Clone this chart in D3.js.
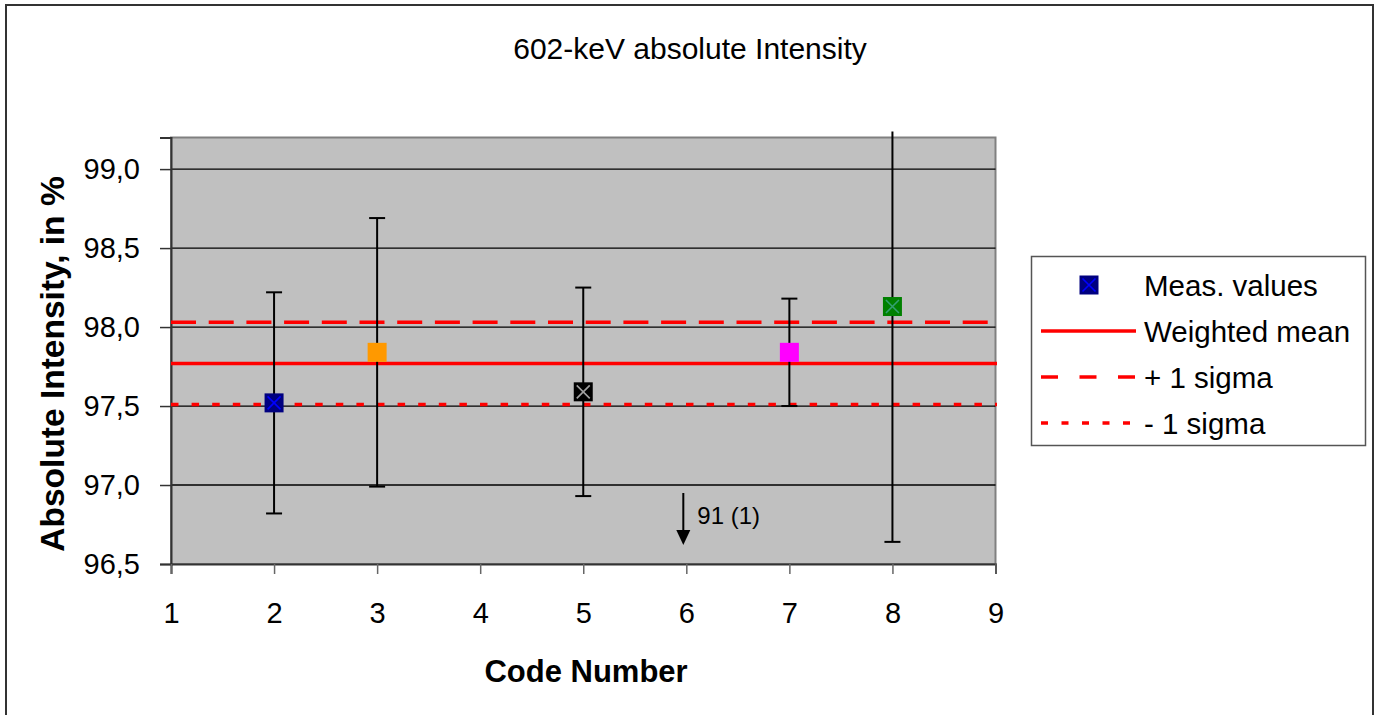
<!DOCTYPE html>
<html>
<head>
<meta charset="utf-8">
<script src="https://cdn.jsdelivr.net/npm/d3@7"></script>
<style>
  html, body { margin: 0; padding: 0; background: #fff; }
  svg { display: block; font-family: "Liberation Sans", Arial, sans-serif; }
</style>
</head>
<body>
<svg id="chart" width="1379" height="715"></svg>
<script>
// ---- data ----
const codes = [2, 3, 5, 7, 8];
const values = [97.52, 97.84, 97.59, 97.84, 98.13];
const uncertainties = [0.70, 0.85, 0.66, 0.34, 1.49];
const weightedMean = 97.77;
const sigma = 0.26;
const xTicks = [1, 2, 3, 4, 5, 6, 7, 8, 9];
const yTicks = [96.5, 97.0, 97.5, 98.0, 98.5, 99.0];
const annotations = [{ code: 6, label: "91 (1)" }];
const legendLabels = ["Meas. values", "Weighted mean", "+ 1 sigma", "- 1 sigma"];
const title = "602-keV absolute Intensity";
const xTitle = "Code Number";
const yTitle = "Absolute Intensity, in %";

// marker styles (fill, cross colour or null)
const markerFill = ["#000080", "#FF9900", "#000000", "#FF00FF", "#008000"];
const markerCross = ["#0000FF", null, "#A0A0A0", null, "#33A070"];

// ---- layout ----
const svg = d3.select("#chart");
const plot = { left: 171, right: 995.5, top: 137.5, bottom: 564 };

const x = d3.scaleLinear().domain([1, 9]).range([plot.left, plot.right]);
const y = d3.scaleLinear().domain([96.5, 99.2]).range([plot.bottom, plot.top]);
const fmt = d => d3.format(".1f")(d).replace(".", ",");

// outer border
svg.append("rect").attr("x", 6).attr("y", 5).attr("width", 1367).attr("height", 720)
  .attr("fill", "#fff").attr("stroke", "#333").attr("stroke-width", 2);

// title
svg.append("text").attr("x", 690).attr("y", 59).attr("text-anchor", "middle")
  .attr("font-size", 30).attr("fill", "#000").text(title);

// plot area
svg.append("rect").attr("x", plot.left).attr("y", plot.top)
  .attr("width", plot.right - plot.left).attr("height", plot.bottom - plot.top)
  .attr("fill", "#C0C0C0").attr("stroke", "#808080").attr("stroke-width", 2);

// gridlines
svg.append("g").selectAll("line").data(yTicks.slice(1)).join("line")
  .attr("x1", plot.left).attr("x2", plot.right)
  .attr("y1", d => y(d)).attr("y2", d => y(d))
  .attr("stroke", "#000").attr("stroke-width", 1.3);

// axes
const yAxis = d3.axisLeft(y).tickValues(yTicks).tickFormat(fmt).tickSize(11).tickPadding(20);
const gy = svg.append("g").attr("transform", `translate(${plot.left},0)`).call(yAxis);
gy.select(".domain").attr("stroke", "#333").attr("stroke-width", 2);
gy.selectAll(".tick line").attr("stroke", "#333").attr("stroke-width", 1.5);
gy.selectAll(".tick text").attr("font-size", 29).attr("fill", "#000")
  .attr("font-family", "Liberation Sans, Arial, sans-serif");

const xAxis = d3.axisBottom(x).tickValues(xTicks).tickFormat(d3.format("d")).tickSize(10).tickPadding(28);
const gx = svg.append("g").attr("transform", `translate(0,${plot.bottom})`).call(xAxis);
gx.select(".domain").attr("stroke", "#333").attr("stroke-width", 2);
gx.selectAll(".tick line").attr("stroke", "#666").attr("stroke-width", 1.5);
gx.selectAll(".tick text").attr("font-size", 29).attr("fill", "#000")
  .attr("font-family", "Liberation Sans, Arial, sans-serif");

// axis titles
svg.append("text").attr("x", 586).attr("y", 682).attr("text-anchor", "middle")
  .attr("font-size", 31).attr("font-weight", "bold").text(xTitle);
svg.append("text").attr("transform", "translate(64,364) rotate(-90)")
  .attr("text-anchor", "middle").attr("font-size", 33.5).attr("font-weight", "bold").text(yTitle);

// reference lines
const refLines = [
  { v: weightedMean, dash: null },
  { v: weightedMean + sigma, dash: "25,12.7" },
  { v: weightedMean - sigma, dash: "7.5,13.1" }
];
svg.append("g").selectAll("line").data(refLines).join("line")
  .attr("x1", plot.left).attr("x2", plot.right + 1.5)
  .attr("y1", d => y(d.v)).attr("y2", d => y(d.v))
  .attr("stroke", "#FF0000").attr("stroke-width", 3.5)
  .attr("stroke-dasharray", d => d.dash);

// error bars
const pts = codes.map((c, i) => ({ c, v: values[i], u: uncertainties[i], i }));
const eb = svg.append("g");
const topClip = plot.top - 6;
pts.forEach(p => {
  const yHi = Math.max(y(p.v + p.u), topClip);
  const yLo = y(p.v - p.u);
  eb.append("line").attr("x1", x(p.c)).attr("x2", x(p.c)).attr("y1", yHi).attr("y2", yLo)
    .attr("stroke", "#000").attr("stroke-width", 2);
  if (y(p.v + p.u) >= topClip)
    eb.append("line").attr("x1", x(p.c) - 8).attr("x2", x(p.c) + 8).attr("y1", yHi).attr("y2", yHi)
      .attr("stroke", "#000").attr("stroke-width", 2);
  eb.append("line").attr("x1", x(p.c) - 8).attr("x2", x(p.c) + 8).attr("y1", yLo).attr("y2", yLo)
    .attr("stroke", "#000").attr("stroke-width", 2);
});

// markers
function drawMarker(g, cx, cy, fill, cross) {
  const s = 19, h = s / 2;
  g.append("rect").attr("x", cx - h).attr("y", cy - h).attr("width", s).attr("height", s).attr("fill", fill);
  if (cross) {
    const k = h - 3;
    g.append("path").attr("d", `M${cx - k},${cy - k}L${cx + k},${cy + k}M${cx + k},${cy - k}L${cx - k},${cy + k}`)
      .attr("stroke", cross).attr("stroke-width", 1.6).attr("fill", "none");
  }
}
const mk = svg.append("g");
pts.forEach(p => drawMarker(mk, x(p.c), y(p.v), markerFill[p.i], markerCross[p.i]));

// annotation
annotations.forEach(a => {
  const ax = x(a.code) - 3;
  svg.append("line").attr("x1", ax).attr("x2", ax).attr("y1", 493).attr("y2", 532)
    .attr("stroke", "#000").attr("stroke-width", 2);
  svg.append("path").attr("d", `M${ax - 7},${530}L${ax + 7},${530}L${ax},${545}Z`).attr("fill", "#000");
  svg.append("text").attr("x", ax + 14).attr("y", 524).attr("font-size", 24).text(a.label);
});

// legend
const lg = svg.append("g");
lg.append("rect").attr("x", 1031.5).attr("y", 256.5).attr("width", 334).attr("height", 189)
  .attr("fill", "#fff").attr("stroke", "#555").attr("stroke-width", 1.5);
const rowsY = [285, 331, 377, 423];
drawMarker(lg, 1089, rowsY[0], markerFill[0], markerCross[0]);
const legDash = [null, "17,21.5", "7,13.5"];
[1, 2, 3].forEach((r, k) => {
  lg.append("line").attr("x1", 1041).attr("x2", 1136).attr("y1", rowsY[r]).attr("y2", rowsY[r])
    .attr("stroke", "#FF0000").attr("stroke-width", 3.5).attr("stroke-dasharray", legDash[k]);
});
legendLabels.forEach((t, r) => {
  lg.append("text").attr("x", 1144).attr("y", rowsY[r]).attr("dy", "0.36em")
    .attr("font-size", 29.5).text(t);
});
</script>
</body>
</html>
